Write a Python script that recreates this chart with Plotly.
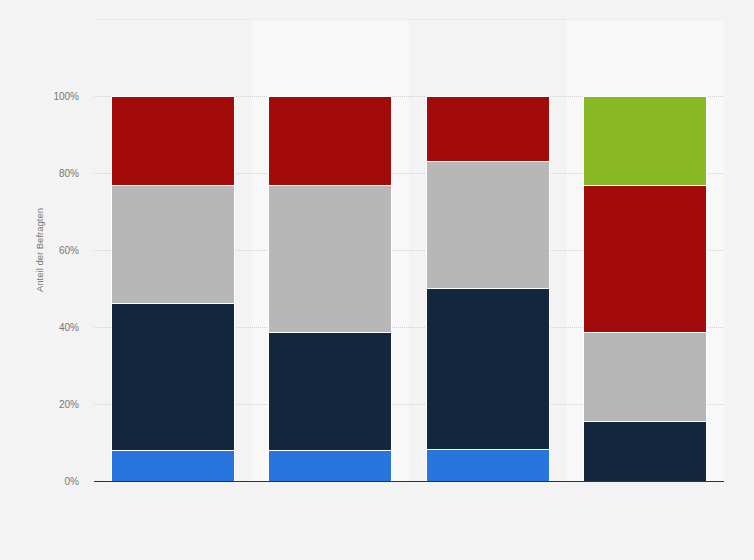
import plotly.graph_objects as go

# category labels are not shown in the reference
kategorien = ["1", "2", "3", "4"]

# shares in percent, bottom to top
blau = [7.8, 7.8, 8.3, 0]
dunkelblau = [38.3, 30.7, 41.7, 15.4]
grau = [30.7, 38.3, 33.1, 23.1]
rot = [23.2, 23.2, 16.9, 38.3]
gruen = [0, 0, 0, 23.2]

y_ticks = [0, 20, 40, 60, 80, 100]
y_ticktext = ["0%", "20%", "40%", "60%", "80%", "100%"]
y_max = 120

serien = [
    ("blau", blau, "#2876dd"),
    ("dunkelblau", dunkelblau, "#12273d"),
    ("grau", grau, "#b7b7b7"),
    ("rot", rot, "#a30a0a"),
    ("gruen", gruen, "#88b925"),
]

fig = go.Figure()
for name, werte, farbe in serien:
    fig.add_trace(go.Bar(
        x=kategorien, y=werte, name=name,
        marker=dict(color=farbe, line=dict(color="white", width=1)),
        hoverinfo="y",
    ))

# lighter background bands behind columns 2 and 4
for i in (1, 3):
    fig.add_shape(type="rect", xref="x", yref="paper",
                  x0=i - 0.5, x1=i + 0.5, y0=0, y1=1,
                  fillcolor="#f8f8f8", line_width=0, layer="below")

# top gridline (sits on the edge of the plot area)
fig.add_shape(type="line", xref="paper", yref="y", x0=0, x1=1, y0=y_max, y1=y_max,
              line=dict(color="#d0d0d0", width=1, dash="1px,1px"), layer="below")

fig.update_layout(
    barmode="stack",
    bargap=0.22,
    showlegend=False,
    paper_bgcolor="#f3f3f3",
    plot_bgcolor="#f3f3f3",
    margin=dict(l=94, r=30, t=19, b=79),
    width=754, height=560,
    font=dict(family="Liberation Sans, Arial, sans-serif", color="#777777", size=10),
    xaxis=dict(
        range=[-0.5, 3.5],
        showticklabels=False,
        showgrid=False,
        zeroline=False,
        showline=True, linecolor="#333333", linewidth=1,
        ticks="",
    ),
    yaxis=dict(
        range=[0, y_max],
        tickvals=y_ticks,
        ticktext=y_ticktext,
        showgrid=True, gridcolor="#d0d0d0", griddash="1px,1px", gridwidth=1,
        zeroline=False,
        ticks="",
        ticklabelstandoff=14,
        title=dict(text="Anteil der Befragten", font=dict(size=9.5, color="#777777"), standoff=8),
    ),
)

fig.write_html("out.html", config={"displayModeBar": False},
               post_script="document.body.style.margin='0';document.body.style.overflow='hidden';")
